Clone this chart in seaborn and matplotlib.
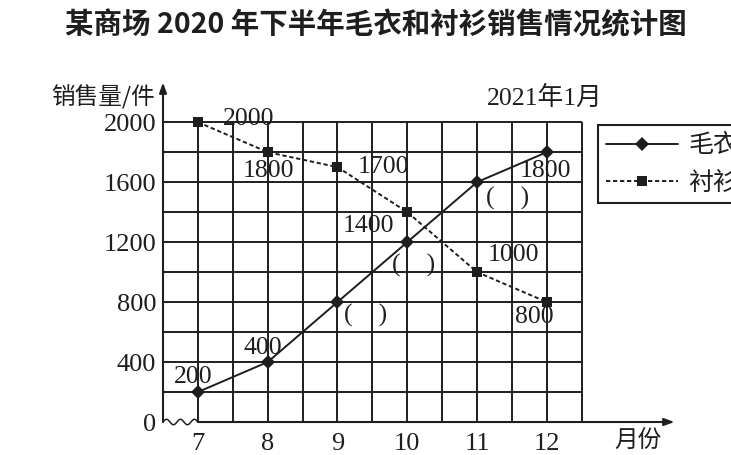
import numpy as np
import pandas as pd
import matplotlib
matplotlib.use("Agg")
import matplotlib.pyplot as plt
import seaborn as sns

# ---- data ----
months = [7, 8, 9, 10, 11, 12]
sweater = [200, 400, 800, 1200, 1600, 1800]
shirt = [2000, 1800, 1700, 1400, 1000, 800]
sweater_labels = ["200", "400", "(    )", "(    )", "(    )", "1800"]
shirt_labels = ["2000", "1800", "1700", "1400", "1000", "800"]
yticks = [0, 400, 800, 1200, 1600, 2000]
title = "某商场 2020 年下半年毛衣和衬衫销售情况统计图"
ylabel = "销售量/件"
xlabel = "月份"
note = "2021年1月"
series_names = ["毛衣", "衬衫"]

sns.set_theme(style="white")
plt.rcParams['font.family'] = ['Liberation Serif', 'Noto Sans CJK SC', 'DejaVu Sans']
plt.rcParams['axes.unicode_minus'] = False

INK = "#1e1e1e"
CJK = ['Noto Sans CJK SC', 'DejaVu Sans']
fig = plt.figure(figsize=(7.31, 4.55), dpi=100)
ax = fig.add_axes([0.223, 0.0725, 0.716, 0.748])
ax.set_xlim(6.5, 14.0)
ax.set_ylim(0, 2270)
for s in ax.spines.values():
    s.set_visible(False)

# grid
gx = np.arange(7, 12.51, 0.5)
gy = np.arange(200, 2001, 200)
ax.vlines(gx, 0, 2000, color=INK, lw=1.4, zorder=1)
ax.hlines(gy, 6.5, 12.5, color=INK, lw=1.4, zorder=1)

# axes with arrows
ax.annotate("", xy=(6.5, 2265), xytext=(6.5, 0),
            arrowprops=dict(arrowstyle="-|>,head_length=0.5,head_width=0.18", color=INK, lw=1.5,
                            shrinkA=0, shrinkB=0), annotation_clip=False)
ax.annotate("", xy=(13.83, 0), xytext=(7.0, 0),
            arrowprops=dict(arrowstyle="-|>,head_length=0.5,head_width=0.18", color=INK, lw=1.5,
                            shrinkA=0, shrinkB=0), annotation_clip=False)
# axis break zigzag
zx = np.linspace(6.5, 7.0, 60)
zy = 18 * np.sin((zx - 6.5) * 2 * np.pi * 5)
ax.plot(zx, zy, color=INK, lw=1.1, clip_on=False, zorder=2)

# series
df = pd.DataFrame({"月": months, "毛衣": sweater, "衬衫": shirt})
sns.lineplot(data=df, x="月", y="毛衣", ax=ax, color=INK, lw=1.4, marker="D",
             markersize=7, markeredgewidth=0, label=series_names[0], zorder=4, legend=False)
sns.lineplot(data=df, x="月", y="衬衫", ax=ax, color=INK, lw=1.4, marker="s",
             linestyle=(0, (2.2, 1.4)), markersize=6.5, markeredgewidth=0,
             label=series_names[1], zorder=4, legend=False)

# point labels (offsets in pixels -> points)
k = 0.72
shirt_off = [(51, 3), (1, -19), (46, 0), (-39, -14), (36, 17), (-13, -15)]
sweater_off = [(-5, 15), (-5, 14), (28, -13), (6, -23), (31, -16), (-1, -19)]
lab_fs = 18.5
for m, v, t, (dx, dy) in zip(months, shirt, shirt_labels, shirt_off):
    ax.annotate(t, (m, v), xytext=(dx * k, dy * k), textcoords="offset points",
                ha="center", va="center", fontsize=lab_fs, color=INK, zorder=5)
for m, v, t, (dx, dy) in zip(months, sweater, sweater_labels, sweater_off):
    ax.annotate(t, (m, v), xytext=(dx * k, dy * k), textcoords="offset points",
                ha="center", va="center", fontsize=lab_fs, color=INK, zorder=5)

# ticks
ax.set_xticks(months)
ax.set_xticklabels([str(m) for m in months])
ax.set_yticks(yticks)
ax.set_yticklabels([str(v) for v in yticks])
ax.tick_params(axis="both", length=0, labelsize=19, colors=INK)
ax.tick_params(axis="y", pad=5)
ax.tick_params(axis="x", pad=8)
ax.set_xlabel("")
ax.set_ylabel("")

# texts
ax.text(13.3, -120, xlabel, ha="center", va="center", fontsize=17, color=INK, family=CJK)
ax.text(6.38, 2165, ylabel, ha="right", va="center", fontsize=17, color=INK, family=CJK)
ax.text(11.97, 2160, note, ha="center", va="center", fontsize=18.5, color=INK)
fig.text(0.514, 0.945, title, ha="center", va="center", fontsize=20.5, fontweight="bold",
         color=INK, family=CJK)

# legend
handles, labels = ax.get_legend_handles_labels()
leg = ax.legend(handles, labels, loc="upper left", bbox_to_anchor=(598 / 731, 1 - 125 / 455),
                bbox_transform=fig.transFigure, frameon=True, fancybox=False,
                edgecolor=INK, framealpha=1, handlelength=2.9,
                handletextpad=0.4, labelspacing=0.45, borderpad=0.3, borderaxespad=0,
                prop={'family': CJK, 'size': 18})
leg.get_frame().set_linewidth(1.5)
for t in leg.get_texts():
    t.set_color(INK)

fig.savefig("out.png", dpi=100, facecolor="white")
